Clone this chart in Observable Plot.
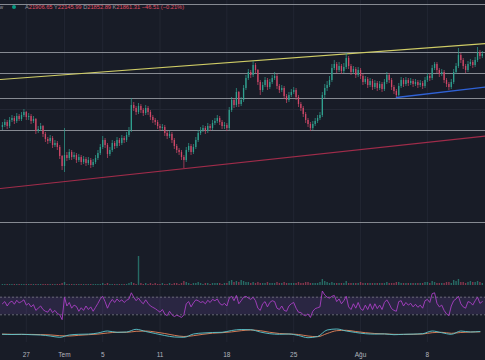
<!DOCTYPE html>
<html><head><meta charset="utf-8">
<script src="https://cdn.jsdelivr.net/npm/d3@7"></script>
<script src="https://cdn.jsdelivr.net/npm/@observablehq/plot@0.6"></script>
<style>
html,body{margin:0;padding:0;background:#181c27;}
#wrap{position:relative;width:485px;height:360px;overflow:hidden;background:#181c27;font-family:"Liberation Sans",Arial,sans-serif;}
.panel{position:absolute;left:0;}
.panel svg{display:block;background:transparent;}
#hdr{position:absolute;left:0;top:3.5px;width:485px;height:7px;font-size:5.7px;line-height:6px;color:#9598a1;white-space:nowrap;}
#hdr .v{color:#e04f64;}
</style></head><body><div id="wrap"></div>
<script>
// ---- data ----
const firstOpen = 21130;
const closes = [21150,21180,21140,21200,21220,21190,21240,21210,21250,21280,
21230,21240,21190,21210,21090,21110,21140,21060,21010,20990,
21020,20950,20970,20930,20840,20740,20850,20820,20880,20830,
20850,20800,20830,20780,20810,20770,20800,20750,20780,20820,
20870,20930,21000,20950,20860,20900,20970,20940,21000,20970,
21020,21000,21050,21100,21350,21320,21280,21340,21300,21270,
21320,21280,21230,21200,21180,21140,21120,21130,21070,21040,
21060,21000,20940,20900,20880,20830,20800,20900,20940,20880,
20930,21000,21070,21100,21120,21090,21140,21120,21170,21190,
21220,21180,21140,21150,21120,21300,21400,21350,21480,21360,
21400,21520,21620,21680,21650,21750,21700,21580,21500,21550,
21600,21530,21580,21620,21640,21540,21500,21520,21440,21400,
21450,21480,21500,21430,21360,21320,21260,21200,21160,21120,
21160,21190,21220,21250,21450,21520,21550,21600,21720,21760,
21700,21740,21690,21730,21820,21740,21680,21710,21650,21700,
21640,21580,21610,21550,21590,21530,21570,21520,21560,21510,
21580,21650,21600,21530,21490,21450,21540,21600,21560,21600,
21570,21590,21560,21580,21550,21570,21540,21600,21640,21620,
21720,21760,21700,21660,21680,21600,21560,21530,21580,21680,
21740,21850,21800,21740,21700,21760,21780,21750,21800,21880,
21840,21860];
const highs = [21180,21210,21200,21230,21250,21240,21270,21260,21280,21310,
21290,21270,21260,21240,21220,21140,21170,21150,21080,21030,
21050,21040,21000,20990,20950,20850,21120,20880,20910,20900,
20880,20870,20860,20850,20840,20830,20830,20820,20810,20850,
20900,20960,21040,21020,20970,20930,21000,20990,21030,21020,
21050,21040,21080,21130,21420,21380,21340,21370,21360,21320,
21350,21340,21300,21250,21220,21200,21160,21160,21150,21090,
21090,21080,21020,20960,20920,20900,20850,20930,20970,20960,
20960,21030,21100,21130,21150,21140,21170,21160,21200,21220,
21250,21240,21200,21180,21170,21330,21430,21420,21520,21490,
21430,21550,21650,21710,21700,21790,21770,21710,21600,21580,
21630,21620,21610,21650,21680,21660,21560,21550,21540,21460,
21480,21510,21530,21520,21450,21380,21340,21280,21220,21180,
21190,21220,21250,21280,21480,21560,21590,21640,21760,21800,
21780,21780,21760,21770,21870,21840,21760,21740,21730,21730,
21720,21660,21640,21630,21620,21610,21600,21590,21590,21580,
21610,21680,21670,21620,21550,21510,21570,21630,21620,21630,
21620,21620,21610,21610,21600,21600,21590,21630,21670,21660,
21750,21780,21780,21720,21710,21700,21620,21580,21610,21710,
21770,21920,21870,21820,21760,21790,21810,21800,21830,21930,
21900,21890];
const lows = [21100,21130,21110,21120,21180,21160,21170,21190,21190,21230,
21200,21200,21160,21170,21060,21070,21090,21030,20980,20960,
20970,20920,20930,20900,20810,20700,20680,20790,20800,20800,
20810,20770,20780,20750,20760,20740,20750,20720,20730,20760,
20800,20850,20910,20920,20820,20840,20880,20910,20920,20940,
20950,20970,20980,21030,21080,21290,21250,21260,21270,21240,
21250,21250,21200,21170,21150,21110,21090,21100,21040,21010,
21020,20970,20910,20870,20850,20800,20720,20780,20880,20850,
20860,20910,20980,21050,21080,21060,21070,21090,21100,21150,
21170,21150,21110,21110,21090,21100,21280,21320,21330,21330,
21340,21380,21500,21600,21620,21630,21670,21550,21450,21480,
21530,21500,21510,21560,21600,21510,21470,21480,21410,21370,
21380,21430,21460,21400,21330,21290,21230,21170,21130,21090,
21100,21140,21170,21200,21230,21420,21490,21530,21580,21700,
21670,21680,21660,21670,21710,21710,21650,21660,21620,21630,
21610,21550,21560,21520,21530,21500,21510,21490,21500,21480,
21490,21560,21570,21500,21460,21430,21440,21520,21530,21540,
21540,21550,21530,21540,21520,21530,21510,21520,21580,21590,
21600,21700,21670,21630,21640,21570,21530,21500,21510,21560,
21660,21720,21770,21710,21670,21680,21740,21720,21730,21780,
21810,21820];
const volumes = [1,1,1,1,1,1,1,1,1,1, 1,1,1,1,1,1,1,1,1,1,
1,1,1,1,1,2,3,1,1,1, 1,1,1,1,1,1,1,1,1,1,
1,1,2,1,2,1,1,1,1,1, 1,1,1,2,3,2,1,29,2,1,
2,1,2,1,2,1,1,2,1,1, 2,1,2,2,1,2,4,3,2,1,
2,2,3,2,1,2,2,1,2,2, 2,2,1,2,2,4,5,3,4,3,
5,4,3,3,2,3,2,3,2,2, 2,3,2,2,2,3,2,2,3,2,
2,2,2,2,3,2,2,3,3,2, 2,2,2,3,6,4,3,2,3,2,
2,2,2,2,4,2,2,2,2,2, 3,2,2,2,2,2,2,2,2,2,
2,3,2,2,2,3,3,2,2,2, 2,2,2,2,2,2,2,3,3,2,
4,3,2,2,2,2,3,3,2,5, 4,6,3,3,2,3,4,3,3,4,
3,2];
const rsiValues = [55,60,50,58,61,54,63,57,60,64,52,56,48,53,40,45,50,
42,38,36,44,35,40,33,30, 19, 70,
50,58,45,52,49,38,46,40,50,42,48,38,47,
56,66,72,60,45, 57,65,58,66,60,64,58,63, 66, 80,
70,62,68,60,55,64,56,50,47, 44,40,36,42,32,28,38,30,26,29,27,24, 30,
55,60,48,57,64,62,58,60, 55,63,58,65,62,66,56,52,56,50,
68,72,62,74,55,62,70, 72,68,65,70,62, 45,40,55,60,48,58,62,60,
45,42,50,40,38,50,55,58,45, 36,35,30,28,32,24,38,44,46,48, 84,
75,70,68,72,74,60,66, 55,62,72,48,42,55,45,58,44, 40,52,42,55,42,55,44,52,42,
58,64,55,44,40,38, 60,62,50,58,52,56,48,54,47,52,45,62,65,58, 78,80,
56,48,52,40,32,28, 50,62,66,72, 55,48,45,60,58,52, 62,70,56,60];
const macdValues = [-8,-10,-8,-12,-15,-25,-38,-15,-8,-6,5,25,12,15,42,20,0,-20,-35,-38,
-5,5,10,12,30,40,38,15,-2,-8,-5,-20,-42,-30,35,45,25,10,-2,-6,-4,-12,-8,-6,-2,25,8,-8,25,15,20];
const signalValues = [-6,-8,-9,-9,-11,-14,-22,-25,-18,-12,-6,5,12,12,22,25,15,0,-18,-30,
-22,-8,3,8,16,28,35,28,12,0,-5,-10,-25,-32,0,28,32,20,8,0,-4,-8,-9,-8,-5,8,12,2,10,15,16];
const levels = [22360,21880,21670,21420,21100,20180];
const gridPrices = [21310];
const yellowTrend = [["2025-06-24T07:10Z",21610],["2025-08-14T02:00Z",21970]];
const redTrend = [["2025-06-24T07:10Z",20520],["2025-08-14T02:00Z",21045]];
const blueTrend = [["2025-08-04T18:00Z",21430],["2025-08-14T02:00Z",21535]];
const tickDates = ["2025-06-27","2025-07-01","2025-07-05","2025-07-11","2025-07-18","2025-07-25","2025-08-01","2025-08-08"];
const tickLabels = ["27","Tem","5","11","18","25","Ağu","8"];
const headerKeys = ["A","Y","D","K"];
const headerValues = ["21906.65","22145.99","21852.89","21861.31"];
const headerChange = "−46.51 (−0.21%)";

// ---- build ----
const UP = "#30a08f", DOWN = "#cf4868";
const xDomain = [new Date("2025-06-24T07:10Z"), new Date("2025-08-14T02:00Z")];
const t0 = Date.UTC(2025,5,24,12);
const candles = closes.map((c,i)=>({
  date: new Date(t0 + i*6*3600e3),
  open: i ? closes[i-1] : firstOpen, close: c, high: highs[i], low: lows[i],
  volume: volumes[i], rsi: rsiValues[i]
}));
const days = macdValues.map((m,i)=>({date:new Date(t0 + i*864e5), macd:m, signal:signalValues[i]}));
const ticks = tickDates.map((d,i)=>({date:new Date(d+"T00:00Z"), label:tickLabels[i]}));
const col = d => d.close >= d.open ? UP : DOWN;
const trend = a => a.map(([d,p])=>({date:new Date(d), price:p}));
const vgrid = Plot.ruleX(ticks, {x:"date", stroke:"#222633", strokeWidth:1});

const wrap = document.getElementById("wrap");
function panel(top, height, yDomain, marks){
  const svg = Plot.plot({width:485, height, margin:0,
    x:{type:"utc", domain:xDomain, axis:null},
    y:{domain:yDomain, axis:null},
    style:{background:"transparent", overflow:"hidden"},
    marks});
  const div = document.createElement("div");
  div.className = "panel"; div.style.top = top+"px";
  div.appendChild(svg); wrap.appendChild(div);
}

// main price panel
panel(0, 250, [19900, 22400], [
  vgrid,
  Plot.ruleY(gridPrices, {stroke:"#232734"}),
  Plot.ruleY(levels, {stroke:"#9a9da6", strokeOpacity:0.85, strokeWidth:1}),
  Plot.line(trend(yellowTrend), {x:"date", y:"price", stroke:"#cfcc66", strokeWidth:1.2}),
  Plot.line(trend(redTrend), {x:"date", y:"price", stroke:"#a02c4a", strokeWidth:1.2}),
  Plot.line(trend(blueTrend), {x:"date", y:"price", stroke:"#2f62d6", strokeWidth:1.3}),
  Plot.ruleX(candles, {x:"date", y1:"low", y2:"high", stroke:col, strokeWidth:0.7}),
  Plot.ruleX(candles, {x:"date", y1:"open", y2:"close", stroke:col, strokeWidth:1.3}),
  Plot.ruleY([19900], {stroke:"#262a36"})
]);

// volume panel
panel(250, 36, [-1, 35], [
  vgrid,
  Plot.ruleX(candles, {x:"date", y1:0, y2:"volume", stroke:col, strokeWidth:1.4, strokeOpacity:0.6}),
  Plot.ruleY([-1], {stroke:"#2c303c"})
]);

// RSI panel
panel(286, 36, [12.5, 94.3], [
  vgrid,
  Plot.rect([0], {x1:()=>xDomain[0], x2:()=>xDomain[1], y1:30, y2:70, fill:"#7e57c2", fillOpacity:0.18}),
  Plot.ruleY([70,30], {stroke:"#787b86", strokeDasharray:"2,2", strokeWidth:0.8}),
  Plot.lineY(candles, {x:"date", y:"rsi", stroke:"#a93fc4", strokeWidth:0.9}),
  Plot.ruleY([12.5], {stroke:"#262a36"})
]);

// MACD panel
panel(322, 20, [-90, 110], [
  vgrid,
  Plot.lineY(days, {x:"date", y:"signal", stroke:"#e8845a", strokeWidth:0.9, curve:"monotone-x"}),
  Plot.lineY(days, {x:"date", y:"macd", stroke:"#5cc8d0", strokeWidth:0.9, curve:"monotone-x"}),
  Plot.ruleY([-90], {stroke:"#262a36"})
]);

// time axis
panel(342, 18, [0, 1], [
  Plot.text(ticks, {x:"date", text:"label", fill:"#b2b5be", fontSize:6.5, dy:3,
    fontFamily:"Liberation Sans, Arial, sans-serif"})
]);

// header (legend line)
const hdr = document.createElement("div");
hdr.id = "hdr";
let html = '<span style="position:absolute;left:-1px">w</span>' +
  '<span style="position:absolute;left:12px;top:1px;width:4px;height:4px;border-radius:50%;background:#089981"></span>' +
  '<span style="position:absolute;left:25px">';
headerKeys.forEach((k,i)=>{ html += k + '<span class="v">' + headerValues[i] + '</span> '; });
html += '<span class="v">' + headerChange + '</span></span>';
hdr.innerHTML = html;
wrap.appendChild(hdr);
</script></body></html>
